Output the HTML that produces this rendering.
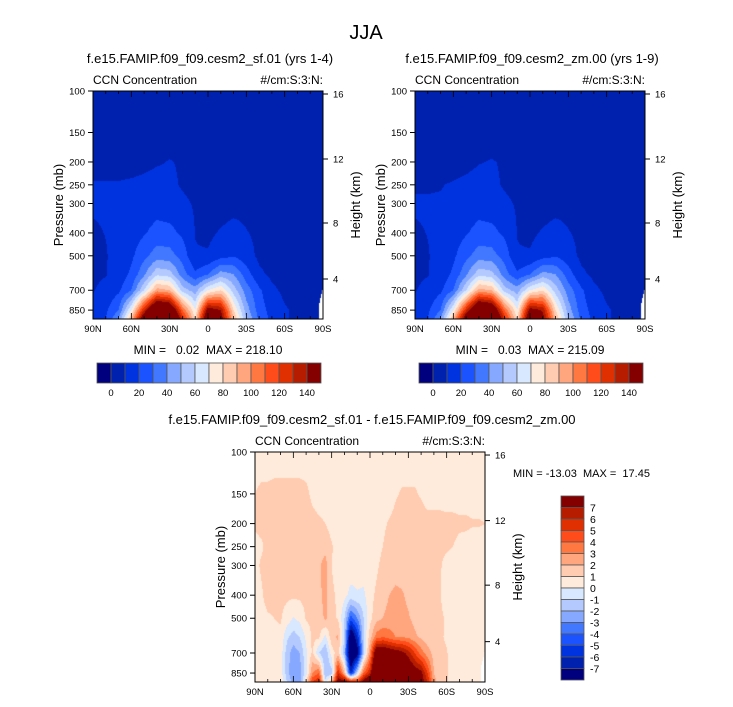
<!DOCTYPE html>
<html><head><meta charset="utf-8">
<style>
html,body{margin:0;padding:0;background:#fff;}
#wrap{position:relative;width:733px;height:707px;overflow:hidden;font-family:"Liberation Sans",sans-serif;}
canvas{position:absolute;}
svg{position:absolute;left:0;top:0;}
.pre{white-space:pre;}
</style></head>
<body>
<div id="wrap">
<canvas id="cA"></canvas>
<canvas id="cB"></canvas>
<canvas id="cC"></canvas>
<svg id="ov" width="733" height="707">
<text x="366" y="39" font-size="20" text-anchor="middle">JJA</text>
</svg>
</div>
<script>
// ---- data ----
const pressures = [100,150,200,250,300,400,500,600,700,850,925];
const latsCoarse = [90,80,70,60,50,40,30,20,10,0,-10,-20,-30,-40,-50,-60,-70,-80,-90];
const latsFine = [90,85,80,75,70,65,60,55,50,45,40,35,30,25,20,15,10,5,0,-5,-10,-15,-20,-25,-30,-35,-40,-45,-50,-55,-60,-65,-70,-75,-80,-85,-90];
const levelsCCN = [0,10,20,30,40,50,60,70,80,90,100,110,120,130,140];
const levelsDiff = [-7,-6,-5,-4,-3,-2,-1,0,1,2,3,4,5,6,7];
const ccnTickLabels = ["0","20","40","60","80","100","120","140"];
const diffTickLabels = ["-7","-6","-5","-4","-3","-2","-1","0","1","2","3","4","5","6","7"];
const pressureTicks = [100,150,200,250,300,400,500,700,850];
const heightTicks = ["16","12","8","4"];
const latTickLabels = ["90N","60N","30N","0","30S","60S","90S"];
const palette = ["#00007f","#0021ae","#0033e0","#1a53ff","#4178ff","#86a9ff","#b4caff","#d8e8ff","#ffebdb","#ffcbb1","#ffa67e","#ff7842","#ff4c1a","#e02f00","#b61d00","#840000"];

const fieldSF = [
[5,5,5,5,5,5,5,5,5,5,5,5,5,5,5,5,5,5,5],
[5,5,5,5,5,5,5,5,5,5,5,5,5,5,5,5,5,5,5],
[5,5,5,5,7,9,10.5,9,6,5,5,5,5,5,5,5,5,5,5],
[11,11,11,12,13,14,12,9,7,5,5,5,5,5,5,5,5,5,5],
[11,11,11,12,13,15,14,12,9,6,5,6,7,6,5,5,5,5,5],
[9,10.2,12,15,19,24,23,18,9.8,8,11,14,10.5,8,6,5,5,5,5],
[8,9.5,13,18,27,35,34,26,10.5,11,16,19,14,8,6,5,5,5,5],
[8,9.5,14,22,38,58,55,35,22,30,45,40,25,12,8,6,5,5,5],
[9.5,13,18,30,60,95,90,55,45,70,80,55,35,22,12,8,6,5,5],
[12,18,30,70,130,180,170,110,70,150,140,80,45,25,16,11,8,5,5],
[13,20,40,90,160,200,190,130,80,170,150,90,50,28,17,11,8,6,5]];

const fieldZM = [
[5,5,5,5,5,5,5,5,5,5,5,5,5,5,5,5,5,5,5],
[5,5,5,5,5,5,5,5,5,5,5,5,5,5,5,5,5,5,5],
[5,5,5,5,7,9.5,10.6,9,6,5,5,5,5,5,5,5,5,5,5],
[9,9,9.5,11,12.5,14,12,9,7,5,5,5,5,5,5,5,5,5,5],
[11,11,11,12,13,15,14,12,9,6,5,6,7,6,5,5,5,5,5],
[9,10.2,12,15,19,24,23,18,9.8,8,11,14,10.5,8,6,5,5,5,5],
[8,9.5,13,18,27,35,34,26,10.5,11,16,19,14,8,6,5,5,5,5],
[8,9.5,14,22,38,57,54,35,22,30,44,40,25,12,8,6,5,5,5],
[9.5,13,18,30,60,94,89,55,45,70,79,55,35,22,12,8,6,5,5],
[12,18,30,70,128,178,168,110,70,148,138,80,45,25,16,11,8,5,5],
[13,20,40,90,158,198,188,128,80,168,148,90,50,28,17,11,8,6,5]];

const fieldDiff = [
[0.5,0.5,0.5,0.5,0.5,0.5,0.5,0.5,0.5,0.5,0.5,0.5,0.5,0.5,0.5,0.5,0.5,0.5,0.5,0.5,0.5,0.5,0.5,0.5,0.5,0.5,0.5,0.5,0.5,0.5,0.5,0.5,0.5,0.5,0.5,0.5,0.5],
[1.0,1.2,1.2,1.3,1.3,1.3,1.3,1.3,1.2,0.8,0.5,0.5,0.5,0.5,0.5,0.5,0.5,0.5,0.5,0.5,0.5,0.5,0.9,1.1,1.1,1.1,0.9,0.5,0.5,0.5,0.5,0.5,0.5,0.5,0.5,0.5,0.5],
[1.1,1.2,1.3,1.4,1.4,1.4,1.4,1.4,1.4,1.3,1.2,1.0,0.6,0.5,0.5,0.5,0.5,0.5,0.5,0.6,0.8,1.1,1.3,1.4,1.5,1.5,1.5,1.4,1.4,1.4,1.3,1.3,1.2,1.2,1.1,1.1,1.0],
[0.8,0.9,1.2,1.3,1.3,1.3,1.3,1.4,1.4,1.5,1.6,1.7,1.1,0.6,0.5,0.5,0.5,0.5,0.5,0.6,1.0,1.4,1.5,1.5,1.5,1.5,1.5,1.5,1.4,1.3,1.2,1.0,0.7,0.6,0.5,0.5,0.5],
[0.8,1.1,1.2,1.2,1.2,1.3,1.3,1.3,1.4,1.5,1.8,2.4,1.0,0.5,0.5,0.5,0.5,0.5,0.5,0.8,1.3,1.5,1.6,1.6,1.6,1.5,1.4,1.3,1.2,1.1,0.6,0.5,0.5,0.5,0.5,0.5,0.5],
[0.6,0.9,1.3,1.2,1.2,1.2,1.2,1.2,1.3,1.4,1.7,2.4,1.2,0.8,0.3,-0.3,-0.1,-0.2,0.6,1.2,1.6,2.0,2.2,2.1,1.8,1.5,1.3,1.2,1.2,1.05,0.5,0.5,0.5,0.5,0.5,0.5,0.5],
[0.6,0.7,0.9,1.0,1.1,0.6,-0.1,0.3,1.1,1.3,1.4,2.2,1.3,0.9,-1,-4.5,-3,-1,0.7,1.6,2.0,2.3,2.4,2.3,2.1,1.7,1.4,1.4,1.3,1.15,0.9,0.5,0.5,0.5,0.5,0.5,0.5],
[0.6,0.7,0.7,0.8,0.8,-0.8,-1.5,-1.0,0.2,1.2,1.2,-0.3,1.6,2.2,-1,-9,-6,-1,1.5,3.5,4,3.5,3.0,3.0,2.8,2.2,1.8,1.4,1.3,1.1,0.9,0.5,0.5,0.5,0.5,0.5,0.5],
[0.6,0.7,0.7,0.8,0.6,-1.5,-2.5,-2,-0.2,1.2,-1.0,-2.0,0.5,1.5,-2,-10,-8,-1.5,3,9,9,8.5,8,7.5,6.5,5,3.5,2.5,1.6,1.2,1.05,0.7,0.5,0.5,0.5,0.5,0.5],
[0.6,0.6,0.7,0.8,0.6,-1.5,-3,-2.5,-0.5,3,4,-2,-1.5,6,2,-6,-1,4,6,12,13,12,11,10,9,8,7.5,5,2,1.2,1.05,0.8,0.5,0.5,0.5,0.5,0.5],
[0.6,0.6,0.7,0.8,0.6,-1,-2.5,-2.5,1,5,6,-0.5,2,8,8,6,5,8,10,13,13,12,11,10,9,8.5,8,6,2.5,1.2,1.05,0.8,0.5,0.5,0.5,0.5,0.5]];

// ---- helpers ----
const svg = document.getElementById('ov');
const NS = 'http://www.w3.org/2000/svg';
const P0 = Math.log(100), PB = Math.log(927);
function mk(tag, attrs, name, txt){
  const e = document.createElementNS(NS, tag);
  for (const k in attrs) e.setAttribute(k, attrs[k]);
  
  
  if (txt !== undefined) e.textContent = txt;
  svg.appendChild(e);
  return e;
}
function binOf(v, levels){ let b=0; while(b<levels.length && v>=levels[b]) b++; return b; }
function hex(c){ return [parseInt(c.substr(1,2),16),parseInt(c.substr(3,2),16),parseInt(c.substr(5,2),16)]; }
const palRGB = palette.map(hex);
const lnP = pressures.map(p=>Math.log(p));

function fillPanel(id, px, py, W, H, field, lats, levels, maskCorner){
  const cv = document.getElementById(id);
  cv.width = W; cv.height = H; cv.style.left = px+'px'; cv.style.top = py+'px';
  const ctx = cv.getContext('2d');
  const img = ctx.createImageData(W, H);
  const n = lats.length;
  for (let y=0; y<H; y++){
    const lp = P0 + (y+0.5)/H*(PB-P0);
    let r=0; while(r<lnP.length-2 && lp>lnP[r+1]) r++;
    let fy = (lp-lnP[r])/(lnP[r+1]-lnP[r]); fy = Math.max(0,Math.min(1,fy));
    for (let x=0; x<W; x++){
      const lat = 90 - (x+0.5)/W*180;
      const fc = (lats[0]-lat)/(lats[0]-lats[n-1])*(n-1);
      let c = Math.min(n-2, Math.floor(fc)); const fx = fc-c;
      const v = (field[r][c]*(1-fx)+field[r][c+1]*fx)*(1-fy) + (field[r+1][c]*(1-fx)+field[r+1][c+1]*fx)*fy;
      let col = palRGB[binOf(v, levels)];
      if (maskCorner && lat < -87 && Math.exp(lp) > 680 + (lat+90)*40) col = [255,255,255];
      const i = (y*W+x)*4;
      img.data[i]=col[0]; img.data[i+1]=col[1]; img.data[i+2]=col[2]; img.data[i+3]=255;
    }
  }
  ctx.putImageData(img,0,0);
}

function axes(px, py, W, H, title, tag){
  const yOf = p => py + (Math.log(p)-P0)/(PB-P0)*H;
  mk('rect',{x:px,y:py,width:W,height:H,fill:'none',stroke:'#000','stroke-width':1},'plot-frame-'+tag);
  pressureTicks.forEach(p=>{
    const y = yOf(p);
    mk('line',{x1:px-5,y1:y,x2:px,y2:y,stroke:'#000','stroke-width':1},'pressure-tick-'+tag);
    mk('text',{x:px-8,y:y+3.5,'font-size':9.5,'text-anchor':'end'},'pressure-tick-label-'+tag,String(p));
  });
  const hFrac = [3/228,68/228,132/228,188/228];
  heightTicks.forEach((h,i)=>{
    const y = py + hFrac[i]*H;
    mk('line',{x1:px+W,y1:y,x2:px+W+5,y2:y,stroke:'#000','stroke-width':1},'height-tick-'+tag);
    mk('text',{x:px+W+10,y:y+3.5,'font-size':9.5},'height-tick-label-'+tag,h);
  });
  for (let k=0;k<=18;k++){
    const x = px + k/18*W; const len = (k%3===0)?6:3;
    mk('line',{x1:x,y1:py+H,x2:x,y2:py+H-len,stroke:'#000','stroke-width':0.8},'lat-tick-'+tag);
    mk('line',{x1:x,y1:py,x2:x,y2:py+len,stroke:'#000','stroke-width':0.8},'lat-tick-top-'+tag);
  }
  latTickLabels.forEach((l,i)=>{
    mk('text',{x:px+i/6*W,y:py+H+13,'font-size':9.5,'text-anchor':'middle'},'lat-tick-label-'+tag,l);
  });
  mk('text',{x:px-30,y:py+H/2,'font-size':13,'text-anchor':'middle',transform:`rotate(-90 ${px-30} ${py+H/2})`},'y-axis-title-'+tag,'Pressure (mb)');
  const hx = px+W+37;
  mk('text',{x:hx,y:py+H/2,'font-size':13,'text-anchor':'middle',transform:`rotate(-90 ${hx} ${py+H/2})`},'height-axis-title-'+tag,'Height (km)');
  mk('text',{x:px,y:py-7,'font-size':12},'variable-label-'+tag,'CCN Concentration');
  mk('text',{x:px+W,y:py-7,'font-size':12,'text-anchor':'end'},'units-label-'+tag,'#/cm:S:3:N:');
  mk('text',{x:px+W/2+2,y:py-28,'font-size':13,'text-anchor':'middle'},'panel-title-'+tag,title);
}

function hColorbar(x0, y0, W, H, tag){
  const bw = W/palette.length;
  palette.forEach((c,i)=>mk('rect',{x:x0+i*bw,y:y0,width:bw,height:H,fill:c,stroke:'#555','stroke-width':0.8},'colorbar-box-'+tag));
  ccnTickLabels.forEach((l,i)=>mk('text',{x:x0+(1+2*i)*bw,y:y0+H+13,'font-size':9.5,'text-anchor':'middle'},'colorbar-label-'+tag,l));
}

// panels
fillPanel('cA',93,91,230,228,fieldSF,latsCoarse,levelsCCN,true);
fillPanel('cB',415,91,230,228,fieldZM,latsCoarse,levelsCCN,true);
fillPanel('cC',255,452,230,230,fieldDiff,latsFine,levelsDiff,true);
axes(93,91,230,228,'f.e15.FAMIP.f09_f09.cesm2_sf.01 (yrs 1-4)','sf01');
axes(415,91,230,228,'f.e15.FAMIP.f09_f09.cesm2_zm.00 (yrs 1-9)','zm00');
axes(255,452,230,230,'f.e15.FAMIP.f09_f09.cesm2_sf.01 - f.e15.FAMIP.f09_f09.cesm2_zm.00','diff');
mk('text',{x:208,y:354,'font-size':12,'text-anchor':'middle','class':'pre'},'min-max-sf01','MIN =   0.02  MAX = 218.10');
mk('text',{x:530,y:354,'font-size':12,'text-anchor':'middle','class':'pre'},'min-max-zm00','MIN =   0.03  MAX = 215.09');
mk('text',{x:513,y:477,'font-size':11,'class':'pre'},'min-max-diff','MIN = -13.03  MAX =  17.45');
hColorbar(97,363,224,20,'sf01');
hColorbar(419,363,224,20,'zm00');
// vertical colorbar
(function(){
  const x0=561,y0=496,W=23,H=184,bh=H/palette.length;
  for(let i=0;i<palette.length;i++){
    mk('rect',{x:x0,y:y0+i*bh,width:W,height:bh,fill:palette[palette.length-1-i],stroke:'#555','stroke-width':0.8},'diff-colorbar-box');
  }
  for(let i=0;i<diffTickLabels.length;i++){
    mk('text',{x:x0+W+6,y:y0+(i+1)*bh+4,'font-size':10.5},'diff-colorbar-label',diffTickLabels[diffTickLabels.length-1-i]);
  }
})();
</script>
</body></html>
